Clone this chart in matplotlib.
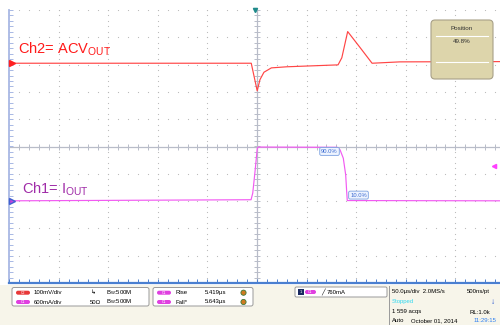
import matplotlib
matplotlib.use('Agg')
import matplotlib.pyplot as plt
import numpy as np
from matplotlib.patches import FancyBboxPatch, Rectangle, Circle

plt.rcParams['font.family'] = ['Liberation Sans', 'DejaVu Sans']
plt.rcParams['mathtext.default'] = 'regular'

# time in us (50us/div), levels in screen divisions
t_ch2 = [-250, -5.8, 0.2, 3.0, 7.0, 14.5, 30.0, 81.7, 85.5, 91.4, 104.0, 116.0, 144.0, 250]
v_ch2 = [3.05, 3.05, 2.04, 2.45, 2.72, 2.88, 2.92, 2.99, 3.25, 4.21, 3.62, 3.05, 3.10, 3.11]

t_ch1 = [-250, -6.0, -4.3, -2.0, 0.3, 1.5, 80.9, 83.7, 87.0, 89.4, 90.4, 91.0, 250]
i_ch1 = [-1.99, -1.95, -1.71, -0.92, -0.06, -0.02, -0.03, -0.12, -0.43, -1.04, -1.65, -1.98, -1.99]

# edge measurement flags
mark_labels = ['90.0%', '10.0%']
mark_t = [73.1, 102.3]
mark_v = [-0.18, -1.78]

ch2_ref = 3.05
ch1_ref = -1.99
trig_level = -0.70

fig = plt.figure(figsize=(5, 3.25), dpi=100)
fig.patch.set_facecolor('white')

ax = fig.add_axes([9 / 500, 42 / 325, 496 / 500, 273 / 325])
ax.set_xlim(-250, 250)
ax.set_ylim(-5, 5)
ax.axis('off')

# dotted graticule
minor_x = np.arange(-250, 251, 10)
minor_y = np.arange(-5, 5.001, 0.2)
for gx in np.arange(-200, 251, 50):
    if gx != 0:
        ax.scatter(np.full_like(minor_y, gx), minor_y, s=0.7, color='#b8b8b8', linewidths=0)
for gy in np.arange(-4, 5.1, 1):
    if gy != 0:
        ax.scatter(minor_x, np.full_like(minor_x, gy, dtype=float), s=0.7, color='#b8b8b8', linewidths=0)

# centre cross with minor ticks
ax.axhline(0, color='#b8bcc8', lw=0.9)
ax.axvline(0, color='#b8bcc8', lw=0.9)
ax.plot(minor_x, np.zeros_like(minor_x), ls='none', marker='|', ms=4, color='#b8bcc8', mew=0.7)
ax.plot(np.zeros_like(minor_y), minor_y, ls='none', marker='_', ms=4, color='#b8bcc8', mew=0.7)

# frame: left and bottom edges
ax.plot([-250, -250], [-5, 5], color='#a8b8e4', lw=1.3, clip_on=False)
ax.plot(np.full_like(minor_y, -250), minor_y, ls='none', marker=1, ms=3, color='#a8b8e4', mew=0.7)
ax.plot([-250, 250], [-5, -5], color='#4a7fd0', lw=1.6, clip_on=False)
ax.plot(minor_x, np.full_like(minor_x, -5, dtype=float), ls='none', marker=2, ms=3,
        color='#4a7fd0', mew=0.7, clip_on=False)

# traces
ax.plot(t_ch2, v_ch2, color='#ff4545', lw=0.85, zorder=3)
ax.plot(t_ch1, i_ch1, color='#f25af2', lw=0.85, zorder=3)

# channel / trigger markers
ax.plot(-247, ch2_ref, marker='>', color='#ff2020', ms=5, clip_on=False, zorder=4)
ax.plot(-247, ch1_ref, marker='>', color='#c045e0', mec='#4060d0', ms=5, clip_on=False, zorder=4)
ax.plot(239, trig_level, marker='<', color='#ff40ff', ms=3, zorder=4)
ax.plot(-2, 5, marker='v', color='#1f8a8a', ms=3, clip_on=False, zorder=4)

for lab, t, v in zip(mark_labels, mark_t, mark_v):
    ax.text(t, v, lab, fontsize=4.2, color='#3a6ad0', ha='center', va='center', zorder=5,
            bbox=dict(boxstyle='round,pad=0.25', fc='#eef4ff', ec='#7aa0e0', lw=0.6))

ax.text(-241, 3.55, 'Ch2= ACV$_{OUT}$', fontsize=10.5, color='#ff1a1a', va='center', ha='left')
ax.text(-237, -1.57, 'Ch1= I$_{OUT}$', fontsize=10.5, color='#a02ca8', va='center', ha='left')

# overlay for the instrument readouts, in pixel units
ui = fig.add_axes([0, 0, 1, 1], zorder=5)
ui.patch.set_alpha(0)
ui.set_xlim(0, 500)
ui.set_ylim(325, 0)
ui.axis('off')

# position popup
ui.add_patch(FancyBboxPatch((431, 20), 62, 59, boxstyle='round,pad=0,rounding_size=4',
                            fc='#ddd5ab', ec='#a8a088', lw=0.8))
ui.plot([436, 488], [35.7, 35.7], color='white', lw=0.8)
ui.plot([436, 488], [62, 62], color='white', lw=0.8)
ui.text(461.5, 28.3, 'Position', fontsize=4.5, color='#303030', ha='center', va='center')
ui.text(461.5, 41.5, '49.8%', fontsize=4.5, color='#303030', ha='center', va='center')

# bottom readout panel
ui.add_patch(Rectangle((0, 284.5), 500, 41, fc='#f7f5ea', ec='none'))


def pill(x, y, color, label, w=14):
    ui.add_patch(FancyBboxPatch((x, y - 2), w, 4, boxstyle='round,pad=0,rounding_size=2',
                                fc=color, ec='none'))
    ui.text(x + w / 2, y, label, fontsize=2.5, color='white', ha='center', va='center')


fs = 4.3
row1, row2 = 292.7, 302.0

ui.add_patch(FancyBboxPatch((12, 287.5), 137, 18.5, boxstyle='round,pad=0,rounding_size=2',
                            fc='white', ec='#9a9a9a', lw=0.7))
pill(16, row1, '#e83838', 'C2')
pill(16, row2, '#e040e0', 'C1')
ui.text(34, row1, '100mV/div', fontsize=fs, va='center')
ui.text(34, row2, '600mA/div', fontsize=fs, va='center')
ui.text(91, row1, '↳', fontsize=fs, va='center')
ui.text(90, row2, '50Ω', fontsize=fs, va='center')
ui.text(106, row1, 'B$_W$:500M', fontsize=fs, va='center')
ui.text(106, row2, 'B$_W$:500M', fontsize=fs, va='center')

ui.add_patch(FancyBboxPatch((153, 287.5), 100, 18.5, boxstyle='round,pad=0,rounding_size=2',
                            fc='white', ec='#9a9a9a', lw=0.7))
pill(157, row1, '#e040e0', 'C1')
pill(157, row2, '#e040e0', 'C1')
ui.text(176, row1, 'Rise', fontsize=fs, va='center')
ui.text(176, row2, 'Fall*', fontsize=fs, va='center')
ui.text(205, row1, '5.419µs', fontsize=fs, va='center')
ui.text(205, row2, '5.643µs', fontsize=fs, va='center')
for ry in (row1, row2):
    ui.add_patch(Circle((243.5, ry), 2.6, fc='#d07a20', ec='#3a7a3a', lw=0.6))

ui.add_patch(FancyBboxPatch((295, 287), 92, 10, boxstyle='round,pad=0,rounding_size=1.5',
                            fc='white', ec='#9a9a9a', lw=0.7))
ui.add_patch(Rectangle((297.5, 289), 6.5, 6, fc='#1a2a60', ec='none'))
ui.text(300.7, 292, '1', fontsize=3, color='white', ha='center', va='center')
pill(305, 292, '#e040e0', 'C1', w=11)
ui.text(321, 292, '╱', fontsize=fs, va='center')
ui.text(327, 292, '760mA', fontsize=fs, va='center')

ui.plot([389, 389], [285.5, 325], color='#9a9a9a', lw=0.7)
ui.text(392, 291, '50.0µs/div  2.0MS/s', fontsize=fs, va='center')
ui.text(467, 291, '500ns/pt', fontsize=fs, va='center')
ui.text(392, 302, 'Stopped', fontsize=fs, color='#30d8f0', va='center')
ui.text(493, 302, '↓', fontsize=6, color='#2050d0', ha='center', va='center', fontweight='bold')
ui.text(392, 312, '1 559 acqs', fontsize=fs, va='center')
ui.text(470, 312, 'RL:1.0k', fontsize=fs, va='center')
ui.text(392, 321, 'Auto', fontsize=fs, va='center')
ui.text(411, 321, 'October 01, 2014', fontsize=fs, va='center')
ui.text(474, 321, '11:29:15', fontsize=fs, color='#3080f0', va='center')

fig.savefig('out.png', dpi=100)
